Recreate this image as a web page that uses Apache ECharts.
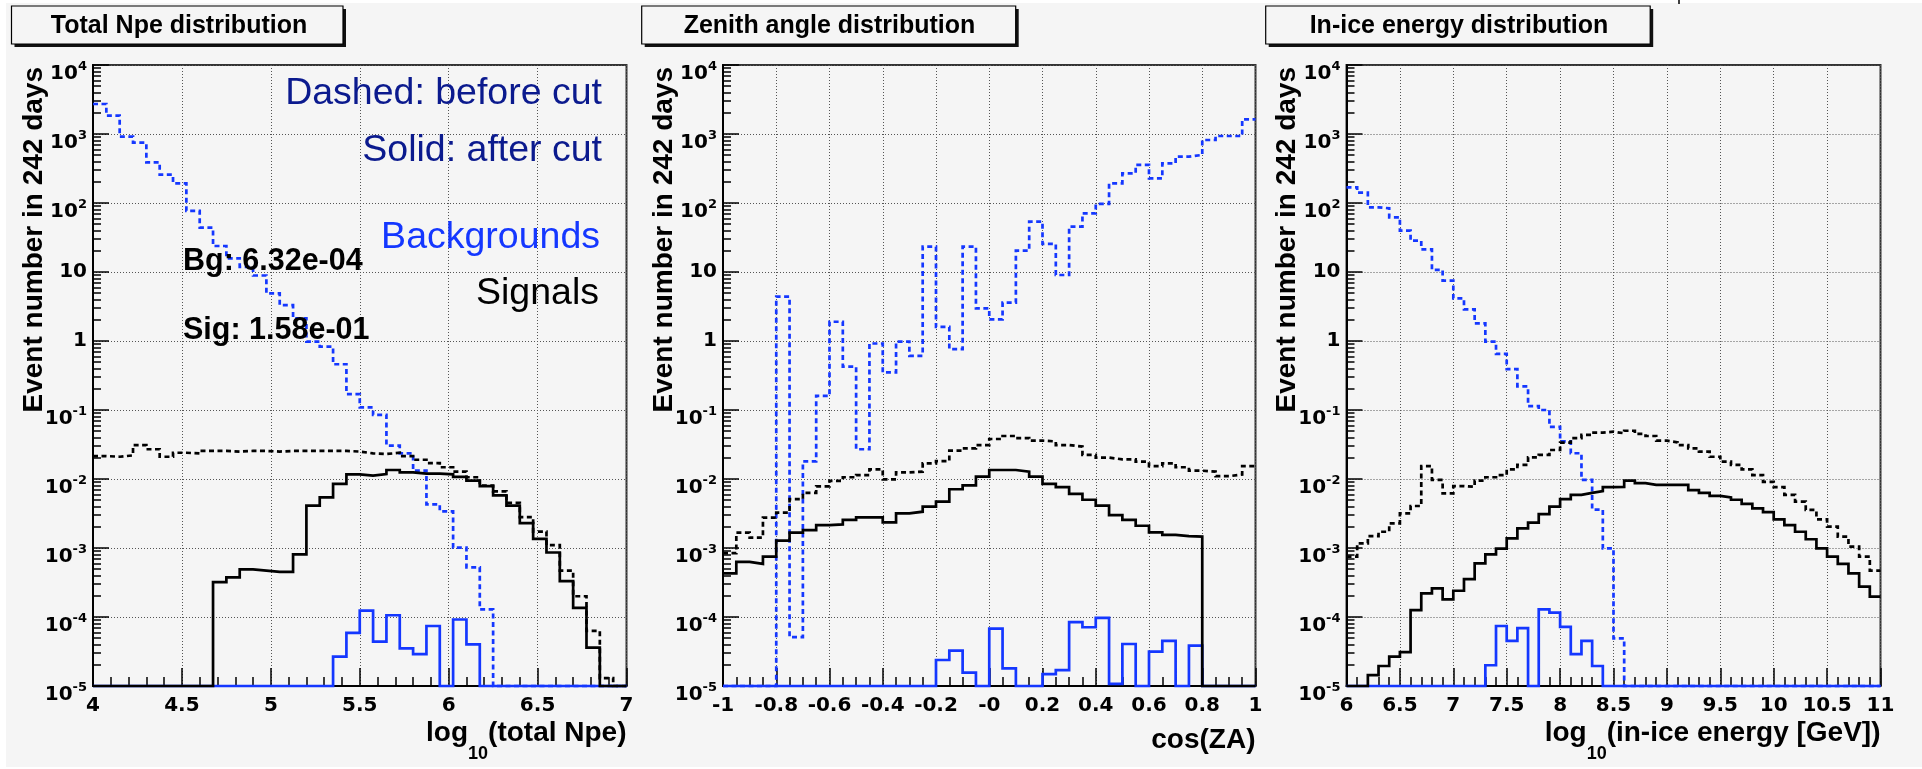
<!DOCTYPE html>
<html>
<head>
<meta charset="utf-8">
<script src="https://cdn.jsdelivr.net/npm/echarts@6/dist/echarts.min.js"></script>
<style>
  html, body { margin: 0; padding: 0; background: #f5f5f5; }
  #chart { width: 1922px; height: 769px; }
</style>
</head>
<body>
<div id="chart"></div>
<script>
// ---- histogram ranges (bins are equal width across each range) ----
const npeRange = [4, 7];     // log10(total Npe), 40 bins
const zaRange = [-1, 1];     // cos(ZA), 40 bins
const enRange = [6, 11];     // log10(in-ice energy [GeV]), 50 bins

// ---- Total Npe distribution ----
const npeSigBefore = [2.15e-2, 2.1e-2, 2.2e-2, 3.1e-2, 2.7e-2, 2.1e-2, 2.4e-2, 2.35e-2, 2.55e-2, 2.55e-2,
  2.5e-2, 2.55e-2, 2.55e-2, 2.5e-2, 2.55e-2, 2.55e-2, 2.55e-2, 2.55e-2, 2.55e-2, 2.5e-2,
  2.35e-2, 2.3e-2, 2.4e-2, 2.15e-2, 1.9e-2, 1.7e-2, 1.48e-2, 1.28e-2, 1.06e-2, 8.0e-3,
  6.6e-3, 4.5e-3, 2.8e-3, 1.73e-3, 1.1e-3, 4.7e-4, 2.0e-4, 6.3e-5, 1.3e-5, 0];
const npeSigAfter = [0, 0, 0, 0, 0, 0, 0, 0, 0, 3.2e-4,
  3.76e-4, 4.9e-4, 4.7e-4, 4.5e-4, 4.5e-4, 8.1e-4, 4.1e-3, 5.4e-3, 8.5e-3, 1.17e-2,
  1.12e-2, 1.18e-2, 1.35e-2, 1.25e-2, 1.2e-2, 1.2e-2, 1.17e-2, 1.07e-2, 9.5e-3, 7.9e-3,
  5.8e-3, 4.1e-3, 2.3e-3, 1.36e-3, 8.6e-4, 3.3e-4, 1.36e-4, 3.6e-5, 0, 0];
const npeBgBefore = [2720, 1845, 915, 748, 388, 257, 193, 77, 44, 23.8,
  15.8, 11.9, 8.9, 4.9, 3.3, 2.13, 0.98, 0.83, 0.46, 0.17,
  0.109, 8.5e-2, 3.04e-2, 2.35e-2, 1.32e-2, 4.3e-3, 3.4e-3, 1.01e-3, 5.25e-4, 1.29e-4,
  0, 0, 0, 0, 0, 0, 0, 0, 0, 0];
const npeBgAfter = [0, 0, 0, 0, 0, 0, 0, 0, 0, 0,
  0, 0, 0, 0, 0, 0, 0, 0, 2.66e-5, 5.9e-5,
  1.24e-4, 4.4e-5, 1.06e-4, 3.5e-5, 2.9e-5, 7.4e-5, 0, 9.2e-5, 4.0e-5, 0,
  0, 0, 0, 0, 0, 0, 0, 0, 0, 0];

// ---- Zenith angle distribution ----
const zaSigBefore = [8.4e-4, 1.67e-3, 1.41e-3, 2.75e-3, 3.25e-3, 5.1e-3, 6.3e-3, 7.8e-3, 9.4e-3, 1.06e-2,
  1.14e-2, 1.38e-2, 9.9e-3, 1.25e-2, 1.28e-2, 1.69e-2, 1.82e-2, 2.58e-2, 2.78e-2, 3.1e-2,
  3.8e-2, 4.2e-2, 3.9e-2, 3.6e-2, 3.5e-2, 3.1e-2, 2.95e-2, 2.23e-2, 2.04e-2, 1.93e-2,
  1.93e-2, 1.78e-2, 1.54e-2, 1.69e-2, 1.48e-2, 1.32e-2, 1.28e-2, 1.1e-2, 1.16e-2, 1.54e-2];
const zaSigAfter = [4.3e-4, 6.3e-4, 5.9e-4, 7.5e-4, 1.28e-3, 1.67e-3, 1.82e-3, 2.15e-3, 2.2e-3, 2.55e-3,
  2.78e-3, 2.78e-3, 2.35e-3, 3.18e-3, 3.36e-3, 3.97e-3, 4.7e-3, 7.1e-3, 8.1e-3, 1.08e-2,
  1.35e-2, 1.35e-2, 1.28e-2, 1.08e-2, 8.5e-3, 7.6e-3, 6.1e-3, 5.0e-3, 4.1e-3, 3.0e-3,
  2.55e-3, 2.1e-3, 1.69e-3, 1.55e-3, 1.49e-3, 1.46e-3, 0, 0, 0, 0];
const zaBgBefore = [0, 0, 0, 0, 4.4, 5.1e-5, 1.8e-2, 0.16, 1.9, 0.425,
  2.7e-2, 0.92, 0.35, 0.98, 0.61, 23.3, 1.6, 0.76, 23.3, 2.97,
  2.06, 3.6, 20.4, 53.7, 25.5, 9.05, 45.4, 70.8, 96.8, 193,
  269, 356, 228, 376, 469, 497, 819, 935, 935, 1634];
const zaBgAfter = [0, 0, 0, 0, 0, 0, 0, 0, 0, 0,
  0, 0, 0, 0, 0, 0, 2.38e-5, 3.25e-5, 1.56e-5, 0,
  6.8e-5, 1.8e-5, 0, 0, 1.49e-5, 1.7e-5, 8.4e-5, 7.1e-5, 9.7e-5, 1.07e-5,
  4.06e-5, 0, 3.15e-5, 4.5e-5, 0, 3.85e-5, 0, 0, 0, 0];

// ---- In-ice energy distribution ----
const enSigBefore = [7.5e-4, 1.17e-3, 1.49e-3, 1.72e-3, 2.28e-3, 3.18e-3, 4.06e-3, 1.54e-2, 9.7e-3, 6.2e-3,
  7.9e-3, 7.7e-3, 9.5e-3, 1.06e-2, 1.14e-2, 1.38e-2, 1.6e-2, 2.06e-2, 2.23e-2, 2.63e-2,
  3.36e-2, 3.9e-2, 4.35e-2, 4.7e-2, 4.85e-2, 4.6e-2, 5.0e-2, 4.5e-2, 4.2e-2, 3.6e-2,
  3.4e-2, 3.1e-2, 2.78e-2, 2.49e-2, 2.1e-2, 1.78e-2, 1.6e-2, 1.38e-2, 1.14e-2, 9.1e-3,
  7.6e-3, 5.9e-3, 4.7e-3, 3.56e-3, 2.6e-3, 2.04e-3, 1.46e-3, 1.05e-3, 7.5e-4, 4.7e-4];
const enSigAfter = [0, 0, 1.44e-5, 1.95e-5, 2.66e-5, 3.1e-5, 1.26e-4, 2.2e-4, 2.6e-4, 1.8e-4,
  2.4e-4, 3.55e-4, 6.0e-4, 8.1e-4, 9.8e-4, 1.38e-3, 1.93e-3, 2.33e-3, 3.1e-3, 3.97e-3,
  5.1e-3, 5.9e-3, 6.3e-3, 6.7e-3, 7.6e-3, 7.7e-3, 9.5e-3, 8.7e-3, 8.2e-3, 8.2e-3,
  8.2e-3, 8.2e-3, 6.9e-3, 6.3e-3, 5.7e-3, 5.4e-3, 5.0e-3, 4.35e-3, 3.76e-3, 3.3e-3,
  2.6e-3, 2.15e-3, 1.72e-3, 1.34e-3, 9.9e-4, 7.5e-4, 5.9e-4, 4.3e-4, 2.75e-4, 1.97e-4];
const enBgBefore = [169, 141, 86.5, 83.7, 62, 39.7, 28.4, 21.3, 10.7, 7.5,
  4.15, 2.88, 1.8, 0.98, 0.65, 0.39, 0.22, 0.114, 0.1, 5.7e-2,
  3.5e-2, 2.36e-2, 9.7e-3, 3.6e-3, 9.9e-4, 4.9e-5, 0, 0, 0, 0,
  0, 0, 0, 0, 0, 0, 0, 0, 0, 0,
  0, 0, 0, 0, 0, 0, 0, 0, 0, 0];
const enBgAfter = [0, 0, 0, 0, 0, 0, 0, 0, 0, 0,
  0, 0, 0, 2.0e-5, 7.4e-5, 4.5e-5, 6.9e-5, 0, 1.29e-4, 1.16e-4,
  7.2e-5, 2.9e-5, 4.5e-5, 1.95e-5, 0, 0, 0, 0, 0, 0,
  0, 0, 0, 0, 0, 0, 0, 0, 0, 0,
  0, 0, 0, 0, 0, 0, 0, 0, 0, 0];

// ---- tick labels ----
const npeTicks = ['4', '4.5', '5', '5.5', '6', '6.5', '7'];
const zaTicks = ['-1', '-0.8', '-0.6', '-0.4', '-0.2', '-0', '0.2', '0.4', '0.6', '0.8', '1'];
const enTicks = ['6', '6.5', '7', '7.5', '8', '8.5', '9', '9.5', '10', '10.5', '11'];
const yTickLabels = ['10^{-5}', '10^{-4}', '10^{-3}', '10^{-2}', '10^{-1}', '1', '10', '10^{2}', '10^{3}', '10^{4}'];

// ---- texts ----
const panelTitles = ['Total Npe distribution', 'Zenith angle distribution', 'In-ice energy distribution'];
const yTitle = 'Event number in 242 days';
const xTitles = ['{m|log}{s|10}{m|(total Npe)}', '{m|cos(ZA)}', '{m|log}{s|10}{m|(in-ice energy [GeV])}'];

// ---------------------------------------------------------------
const Y_MIN = 1e-5, Y_MAX = 1e4;
const BLUE = '#1437ff';
const NAVY = '#0b1a8e';
const BOLD = 'Liberation Sans';
const NUM = 'DejaVu Sans';

function histData(range, values) {
  const w = (range[1] - range[0]) / values.length;
  const pts = values.map((v, i) => [range[0] + i * w, Math.max(v, Y_MIN)]);
  pts.push([range[1], Math.max(values[values.length - 1], Y_MIN)]);
  return pts;
}

function yLabel(value) {
  const e = Math.round(Math.log10(value));
  const t = yTickLabels[e + 5];
  if (!t) return '';
  const m = t.match(/^(\d+)\^\{(.+)\}$/);
  return m ? '{base|' + m[1] + '}{sup|' + m[2] + '}' : t;
}

// minor log ticks at 2..9 x 10^n, expressed as exponents
const minorExp = [];
for (let n = -5; n < 4; n++) for (let k = 2; k <= 9; k++) minorExp.push(n + Math.log10(k));

const panels = [
  { left: 93, width: 533.5, range: npeRange, interval: 0.5, minorSplit: 5, ticks: npeTicks, nameGapTop: 33,
    sets: [npeBgBefore, npeSigBefore, npeBgAfter, npeSigAfter] },
  { left: 723, width: 532.5, range: zaRange, interval: 0.2, minorSplit: 4, ticks: zaTicks, nameGapTop: 40,
    sets: [zaBgBefore, zaSigBefore, zaBgAfter, zaSigAfter] },
  { left: 1346.5, width: 534, range: enRange, interval: 0.5, minorSplit: 5, ticks: enTicks, nameGapTop: 33,
    sets: [enBgBefore, enSigBefore, enBgAfter, enSigAfter] }
];

const tickStyle = { color: '#000', width: 1.5 };
const gridDots = { color: '#555', width: 1, type: [1, 2] };

const yRich = {
  base: { fontFamily: NUM, fontWeight: 'bold', fontSize: 20, lineHeight: 22, color: '#000', verticalAlign: 'top', padding: [10, 0, 0, 0] },
  sup: { fontFamily: NUM, fontWeight: 'bold', fontSize: 13, lineHeight: 15, color: '#000', verticalAlign: 'top', padding: [6, 0, 0, 0] }
};

const grids = [], xAxes = [], yAxes = [], series = [];
panels.forEach((p, i) => {
  grids.push({ left: p.left, top: 65, width: p.width, height: 621, show: true,
    borderColor: '#333', borderWidth: 2, backgroundColor: 'transparent', containLabel: false });
  xAxes.push({
    type: 'value', gridIndex: i, min: p.range[0], max: p.range[1], interval: p.interval,
    axisLine: { show: true, onZero: false, lineStyle: { color: '#000', width: 2 } },
    axisTick: { show: true, inside: true, length: 18, lineStyle: tickStyle },
    minorTick: { show: true, splitNumber: p.minorSplit, length: 9, lineStyle: tickStyle },
    splitLine: { show: true, lineStyle: gridDots },
    axisLabel: {
      show: true, margin: 10, color: '#000', fontFamily: NUM, fontWeight: 'bold', fontSize: 20,
      showMinLabel: true, showMaxLabel: true,
      formatter: v => p.ticks[Math.round((v - p.range[0]) / p.interval)] || ''
    },
    name: xTitles[i], nameLocation: 'end', nameGap: 0, nameMoveOverlap: false,
    nameTextStyle: {
      align: 'right', verticalAlign: 'top', padding: [p.nameGapTop, 0, 0, 0],
      rich: {
        m: { fontFamily: BOLD, fontWeight: 'bold', fontSize: 28, lineHeight: 28, color: '#000', verticalAlign: 'top' },
        s: { fontFamily: BOLD, fontWeight: 'bold', fontSize: 18, lineHeight: 17, color: '#000', verticalAlign: 'top', padding: [26, 0, 0, 0] }
      }
    }
  });
  yAxes.push({
    type: 'log', logBase: 10, gridIndex: i, position: 'left', min: Y_MIN, max: Y_MAX, interval: 1,
    axisLine: { show: true, onZero: false, lineStyle: { color: '#000', width: 2 } },
    axisTick: { show: true, inside: true, length: 16, lineStyle: tickStyle },
    splitLine: { show: true, lineStyle: gridDots },
    axisLabel: {
      show: true, margin: 6, formatter: yLabel, showMinLabel: true, showMaxLabel: true,
      color: '#000', fontFamily: NUM, fontWeight: 'bold', fontSize: 20, lineHeight: 22,
      hideOverlap: false,
      rich: yRich
    },
    name: yTitle, nameLocation: 'end', nameRotate: 90, nameGap: -2, nameMoveOverlap: false,
    nameTextStyle: {
      fontFamily: BOLD, fontWeight: 'bold', fontSize: 28, lineHeight: 28, color: '#000',
      align: 'right', verticalAlign: 'bottom', padding: [0, 0, 45, 0]
    }
  });
  const styles = [
    { color: BLUE, dashed: true }, { color: '#000', dashed: true },
    { color: BLUE, dashed: false }, { color: '#000', dashed: false }
  ];
  p.sets.forEach((vals, k) => {
    series.push({
      type: 'line', xAxisIndex: i, yAxisIndex: i, step: 'end', symbol: 'none', showSymbol: false,
      silent: true, clip: false, animation: false, z: 3 + k,
      data: histData(p.range, vals),
      lineStyle: { color: styles[k].color, width: 2.7, type: styles[k].dashed ? [5, 3.5] : 'solid', cap: 'butt', join: 'miter' }
    });
  });
});

// second, label-less y axes carrying the 2..9 log minor ticks
panels.forEach((p, i) => {
  yAxes.push({
    type: 'value', gridIndex: i, position: 'left', offset: 0, min: -5, max: 4,
    axisLine: { show: false, onZero: false }, axisLabel: { show: false }, splitLine: { show: false },
    axisTick: { show: true, inside: true, length: 8, lineStyle: tickStyle, customValues: minorExp }
  });
});

// title boxes with drop shadow
const titleBoxes = [
  { x: 11.5, w: 331.5, cx: 179 },
  { x: 641.7, w: 374, cx: 829.5 },
  { x: 1265.7, w: 384.5, cx: 1459 }
];
const graphic = [
  { type: 'rect', shape: { x: 0, y: 0, width: 1922, height: 3 }, style: { fill: '#fff' }, silent: true },
  { type: 'rect', shape: { x: 0, y: 0, width: 6, height: 769 }, style: { fill: '#fff' }, silent: true },
  { type: 'rect', shape: { x: 0, y: 767, width: 1922, height: 2 }, style: { fill: '#fff' }, silent: true },
  { type: 'line', shape: { x1: 1679, y1: 0, x2: 1679, y2: 4 }, style: { stroke: '#000', lineWidth: 1.5 }, silent: true }
];
titleBoxes.forEach((b, i) => {
  graphic.push({ type: 'rect', shape: { x: b.x + 3, y: 9, width: b.w, height: 38 }, style: { fill: '#111' }, silent: true, z: 10 });
  graphic.push({ type: 'rect', shape: { x: b.x, y: 6, width: b.w, height: 38 }, style: { fill: '#f5f5f5', stroke: '#000', lineWidth: 1.2 }, silent: true, z: 11 });
  graphic.push({ type: 'text', x: b.cx, y: 26, z: 12, silent: true,
    style: { text: panelTitles[i], fill: '#000', fontFamily: BOLD, fontWeight: 'bold', fontSize: 25, align: 'center', verticalAlign: 'middle' } });
});

// legend-style annotations in the first panel
const notes = [
  { text: 'Dashed: before cut', x: 602, y: 94, color: NAVY, size: 37.5, weight: 'normal', align: 'right' },
  { text: 'Solid: after cut', x: 602, y: 151, color: NAVY, size: 37.5, weight: 'normal', align: 'right' },
  { text: 'Backgrounds', x: 600, y: 238, color: BLUE, size: 37.5, weight: 'normal', align: 'right' },
  { text: 'Signals', x: 599, y: 294, color: '#000', size: 37.5, weight: 'normal', align: 'right' },
  { text: 'Bg: 6.32e-04', x: 183, y: 262, color: '#000', size: 30.5, weight: 'bold', align: 'left' },
  { text: 'Sig: 1.58e-01', x: 183, y: 331, color: '#000', size: 30.5, weight: 'bold', align: 'left' }
];
notes.forEach(n => {
  graphic.push({ type: 'text', x: n.x, y: n.y, z: 20, silent: true,
    style: { text: n.text, fill: n.color, fontFamily: BOLD, fontWeight: n.weight, fontSize: n.size, align: n.align, verticalAlign: 'middle' } });
});

const chart = echarts.init(document.getElementById('chart'), null, { renderer: 'canvas' });
chart.setOption({
  backgroundColor: '#f5f5f5',
  animation: false,
  grid: grids,
  xAxis: xAxes,
  yAxis: yAxes,
  series: series,
  graphic: graphic
});
</script>
</body>
</html>
